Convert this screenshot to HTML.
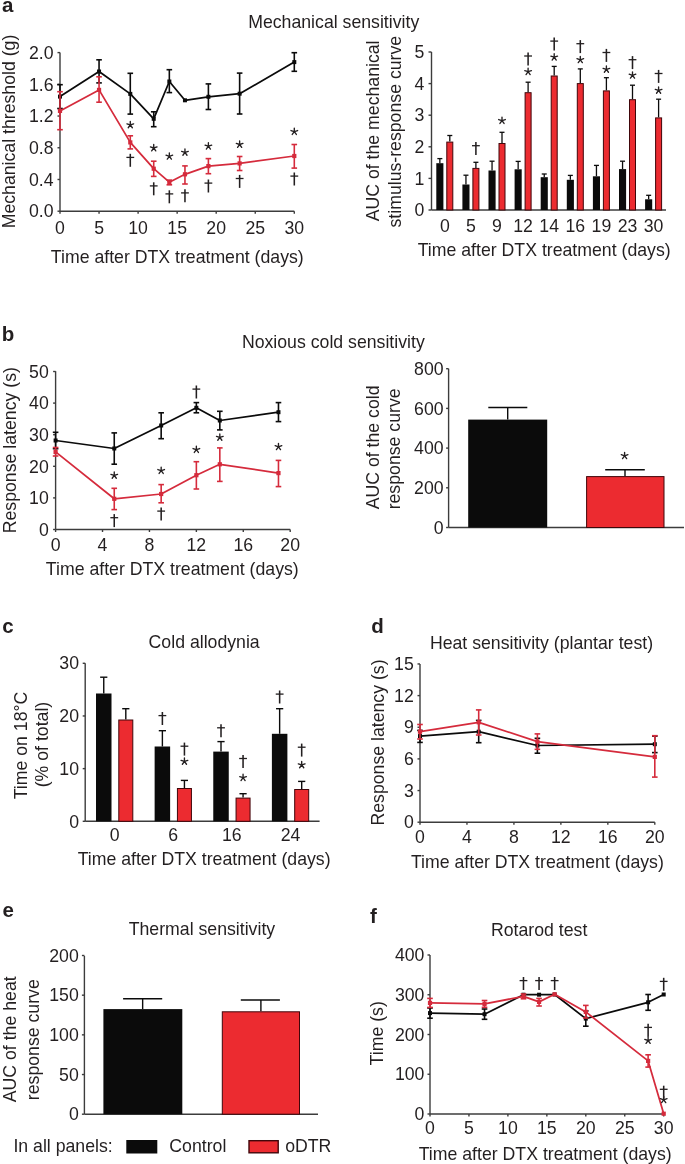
<!DOCTYPE html>
<html><head><meta charset="utf-8"><title>Figure</title>
<style>
html,body{margin:0;padding:0;background:#fff;}
body{width:685px;height:1164px;overflow:hidden;}
svg{display:block;font-family:"Liberation Sans",sans-serif;will-change:transform;}
</style></head><body>
<svg width="685" height="1164" viewBox="0 0 685 1164">
<rect x="0" y="0" width="685" height="1164" fill="#fff"/>
<line x1="60" y1="52.4" x2="60" y2="211.2" stroke="#3c3c3c" stroke-width="1.4"/>
<line x1="57.5" y1="211.2" x2="60" y2="211.2" stroke="#3c3c3c" stroke-width="1.4"/>
<text x="53.6" y="217.39" text-anchor="end" font-size="17.7" font-weight="normal" fill="#231f20">0.0</text>
<line x1="57.5" y1="179.48" x2="60" y2="179.48" stroke="#3c3c3c" stroke-width="1.4"/>
<text x="53.6" y="185.67" text-anchor="end" font-size="17.7" font-weight="normal" fill="#231f20">0.4</text>
<line x1="57.5" y1="147.76" x2="60" y2="147.76" stroke="#3c3c3c" stroke-width="1.4"/>
<text x="53.6" y="153.95" text-anchor="end" font-size="17.7" font-weight="normal" fill="#231f20">0.8</text>
<line x1="57.5" y1="116.04" x2="60" y2="116.04" stroke="#3c3c3c" stroke-width="1.4"/>
<text x="53.6" y="122.23" text-anchor="end" font-size="17.7" font-weight="normal" fill="#231f20">1.2</text>
<line x1="57.5" y1="84.32" x2="60" y2="84.32" stroke="#3c3c3c" stroke-width="1.4"/>
<text x="53.6" y="90.51" text-anchor="end" font-size="17.7" font-weight="normal" fill="#231f20">1.6</text>
<line x1="57.5" y1="52.6" x2="60" y2="52.6" stroke="#3c3c3c" stroke-width="1.4"/>
<text x="53.6" y="58.79" text-anchor="end" font-size="17.7" font-weight="normal" fill="#231f20">2.0</text>
<line x1="60" y1="211.2" x2="294.3" y2="211.2" stroke="#3c3c3c" stroke-width="1.4"/>
<line x1="60" y1="211.2" x2="60" y2="213.7" stroke="#3c3c3c" stroke-width="1.4"/>
<text x="60" y="234.3" text-anchor="middle" font-size="17.7" font-weight="normal" fill="#231f20">0</text>
<line x1="99.05" y1="211.2" x2="99.05" y2="213.7" stroke="#3c3c3c" stroke-width="1.4"/>
<text x="99.05" y="234.3" text-anchor="middle" font-size="17.7" font-weight="normal" fill="#231f20">5</text>
<line x1="138.1" y1="211.2" x2="138.1" y2="213.7" stroke="#3c3c3c" stroke-width="1.4"/>
<text x="138.1" y="234.3" text-anchor="middle" font-size="17.7" font-weight="normal" fill="#231f20">10</text>
<line x1="177.15" y1="211.2" x2="177.15" y2="213.7" stroke="#3c3c3c" stroke-width="1.4"/>
<text x="177.15" y="234.3" text-anchor="middle" font-size="17.7" font-weight="normal" fill="#231f20">15</text>
<line x1="216.2" y1="211.2" x2="216.2" y2="213.7" stroke="#3c3c3c" stroke-width="1.4"/>
<text x="216.2" y="234.3" text-anchor="middle" font-size="17.7" font-weight="normal" fill="#231f20">20</text>
<line x1="255.25" y1="211.2" x2="255.25" y2="213.7" stroke="#3c3c3c" stroke-width="1.4"/>
<text x="255.25" y="234.3" text-anchor="middle" font-size="17.7" font-weight="normal" fill="#231f20">25</text>
<line x1="294.3" y1="211.2" x2="294.3" y2="213.7" stroke="#3c3c3c" stroke-width="1.4"/>
<text x="294.3" y="234.3" text-anchor="middle" font-size="17.7" font-weight="normal" fill="#231f20">30</text>
<text x="177.3" y="263.2" text-anchor="middle" font-size="17.7" font-weight="normal" fill="#231f20">Time after DTX treatment (days)</text>
<text transform="translate(15.4 131.5) rotate(-90)" x="0" y="0" text-anchor="middle" font-size="17.7" fill="#231f20">Mechanical threshold (g)</text>
<polyline points="60,96.6 99.05,71.5 130.29,93.9 153.72,118.8 169.34,81.5 184.96,100.3 208.39,96.8 239.63,93.7 294.3,62.1" fill="none" stroke="#0b0b0b" stroke-width="1.75" stroke-linejoin="round"/>
<line x1="60" y1="84.7" x2="60" y2="108.5" stroke="#0b0b0b" stroke-width="1.6"/>
<line x1="57.2" y1="84.7" x2="62.8" y2="84.7" stroke="#0b0b0b" stroke-width="1.6"/>
<line x1="57.2" y1="108.5" x2="62.8" y2="108.5" stroke="#0b0b0b" stroke-width="1.6"/>
<rect x="58" y="94.6" width="4" height="4" fill="#0b0b0b"/>
<line x1="99.05" y1="59.8" x2="99.05" y2="82.9" stroke="#0b0b0b" stroke-width="1.6"/>
<line x1="96.25" y1="59.8" x2="101.85" y2="59.8" stroke="#0b0b0b" stroke-width="1.6"/>
<line x1="96.25" y1="82.9" x2="101.85" y2="82.9" stroke="#0b0b0b" stroke-width="1.6"/>
<rect x="97.05" y="69.5" width="4" height="4" fill="#0b0b0b"/>
<line x1="130.29" y1="73.3" x2="130.29" y2="114.1" stroke="#0b0b0b" stroke-width="1.6"/>
<line x1="127.49" y1="73.3" x2="133.09" y2="73.3" stroke="#0b0b0b" stroke-width="1.6"/>
<line x1="127.49" y1="114.1" x2="133.09" y2="114.1" stroke="#0b0b0b" stroke-width="1.6"/>
<rect x="128.29" y="91.9" width="4" height="4" fill="#0b0b0b"/>
<line x1="153.72" y1="111.8" x2="153.72" y2="126.7" stroke="#0b0b0b" stroke-width="1.6"/>
<line x1="150.92" y1="111.8" x2="156.52" y2="111.8" stroke="#0b0b0b" stroke-width="1.6"/>
<line x1="150.92" y1="126.7" x2="156.52" y2="126.7" stroke="#0b0b0b" stroke-width="1.6"/>
<rect x="151.72" y="116.8" width="4" height="4" fill="#0b0b0b"/>
<line x1="169.34" y1="69.7" x2="169.34" y2="92.6" stroke="#0b0b0b" stroke-width="1.6"/>
<line x1="166.54" y1="69.7" x2="172.14" y2="69.7" stroke="#0b0b0b" stroke-width="1.6"/>
<line x1="166.54" y1="92.6" x2="172.14" y2="92.6" stroke="#0b0b0b" stroke-width="1.6"/>
<rect x="167.34" y="79.5" width="4" height="4" fill="#0b0b0b"/>
<rect x="182.96" y="98.3" width="4" height="4" fill="#0b0b0b"/>
<line x1="208.39" y1="83.9" x2="208.39" y2="109.5" stroke="#0b0b0b" stroke-width="1.6"/>
<line x1="205.59" y1="83.9" x2="211.19" y2="83.9" stroke="#0b0b0b" stroke-width="1.6"/>
<line x1="205.59" y1="109.5" x2="211.19" y2="109.5" stroke="#0b0b0b" stroke-width="1.6"/>
<rect x="206.39" y="94.8" width="4" height="4" fill="#0b0b0b"/>
<line x1="239.63" y1="73.1" x2="239.63" y2="114" stroke="#0b0b0b" stroke-width="1.6"/>
<line x1="236.83" y1="73.1" x2="242.43" y2="73.1" stroke="#0b0b0b" stroke-width="1.6"/>
<line x1="236.83" y1="114" x2="242.43" y2="114" stroke="#0b0b0b" stroke-width="1.6"/>
<rect x="237.63" y="91.7" width="4" height="4" fill="#0b0b0b"/>
<line x1="294.3" y1="52.7" x2="294.3" y2="71.3" stroke="#0b0b0b" stroke-width="1.6"/>
<line x1="291.5" y1="52.7" x2="297.1" y2="52.7" stroke="#0b0b0b" stroke-width="1.6"/>
<line x1="291.5" y1="71.3" x2="297.1" y2="71.3" stroke="#0b0b0b" stroke-width="1.6"/>
<rect x="292.3" y="60.1" width="4" height="4" fill="#0b0b0b"/>
<polyline points="60,110.9 99.05,89.9 130.29,142.4 153.72,168.7 169.34,182.2 184.96,174.3 208.39,166.1 239.63,163.4 294.3,156" fill="none" stroke="#d52b3c" stroke-width="1.75" stroke-linejoin="round"/>
<line x1="60" y1="91.7" x2="60" y2="129.7" stroke="#d52b3c" stroke-width="1.6"/>
<line x1="57.2" y1="91.7" x2="62.8" y2="91.7" stroke="#d52b3c" stroke-width="1.6"/>
<line x1="57.2" y1="129.7" x2="62.8" y2="129.7" stroke="#d52b3c" stroke-width="1.6"/>
<rect x="57.9" y="108.8" width="4.2" height="4.2" fill="#d52b3c"/>
<line x1="99.05" y1="76.8" x2="99.05" y2="102.2" stroke="#d52b3c" stroke-width="1.6"/>
<line x1="96.25" y1="76.8" x2="101.85" y2="76.8" stroke="#d52b3c" stroke-width="1.6"/>
<line x1="96.25" y1="102.2" x2="101.85" y2="102.2" stroke="#d52b3c" stroke-width="1.6"/>
<rect x="96.95" y="87.8" width="4.2" height="4.2" fill="#d52b3c"/>
<line x1="130.29" y1="135.8" x2="130.29" y2="148.9" stroke="#d52b3c" stroke-width="1.6"/>
<line x1="127.49" y1="135.8" x2="133.09" y2="135.8" stroke="#d52b3c" stroke-width="1.6"/>
<line x1="127.49" y1="148.9" x2="133.09" y2="148.9" stroke="#d52b3c" stroke-width="1.6"/>
<rect x="128.19" y="140.3" width="4.2" height="4.2" fill="#d52b3c"/>
<line x1="153.72" y1="161.2" x2="153.72" y2="176.4" stroke="#d52b3c" stroke-width="1.6"/>
<line x1="150.92" y1="161.2" x2="156.52" y2="161.2" stroke="#d52b3c" stroke-width="1.6"/>
<line x1="150.92" y1="176.4" x2="156.52" y2="176.4" stroke="#d52b3c" stroke-width="1.6"/>
<rect x="151.62" y="166.6" width="4.2" height="4.2" fill="#d52b3c"/>
<line x1="169.34" y1="180.1" x2="169.34" y2="184.8" stroke="#d52b3c" stroke-width="1.6"/>
<line x1="166.54" y1="180.1" x2="172.14" y2="180.1" stroke="#d52b3c" stroke-width="1.6"/>
<line x1="166.54" y1="184.8" x2="172.14" y2="184.8" stroke="#d52b3c" stroke-width="1.6"/>
<rect x="167.24" y="180.1" width="4.2" height="4.2" fill="#d52b3c"/>
<line x1="184.96" y1="165.9" x2="184.96" y2="184" stroke="#d52b3c" stroke-width="1.6"/>
<line x1="182.16" y1="165.9" x2="187.76" y2="165.9" stroke="#d52b3c" stroke-width="1.6"/>
<line x1="182.16" y1="184" x2="187.76" y2="184" stroke="#d52b3c" stroke-width="1.6"/>
<rect x="182.86" y="172.2" width="4.2" height="4.2" fill="#d52b3c"/>
<line x1="208.39" y1="158.6" x2="208.39" y2="173.7" stroke="#d52b3c" stroke-width="1.6"/>
<line x1="205.59" y1="158.6" x2="211.19" y2="158.6" stroke="#d52b3c" stroke-width="1.6"/>
<line x1="205.59" y1="173.7" x2="211.19" y2="173.7" stroke="#d52b3c" stroke-width="1.6"/>
<rect x="206.29" y="164" width="4.2" height="4.2" fill="#d52b3c"/>
<line x1="239.63" y1="156.5" x2="239.63" y2="170.5" stroke="#d52b3c" stroke-width="1.6"/>
<line x1="236.83" y1="156.5" x2="242.43" y2="156.5" stroke="#d52b3c" stroke-width="1.6"/>
<line x1="236.83" y1="170.5" x2="242.43" y2="170.5" stroke="#d52b3c" stroke-width="1.6"/>
<rect x="237.53" y="161.3" width="4.2" height="4.2" fill="#d52b3c"/>
<line x1="294.3" y1="144.5" x2="294.3" y2="168.1" stroke="#d52b3c" stroke-width="1.6"/>
<line x1="291.5" y1="144.5" x2="297.1" y2="144.5" stroke="#d52b3c" stroke-width="1.6"/>
<line x1="291.5" y1="168.1" x2="297.1" y2="168.1" stroke="#d52b3c" stroke-width="1.6"/>
<rect x="292.2" y="153.9" width="4.2" height="4.2" fill="#d52b3c"/>
<path d="M130.29 124.9L130.29 121.4M130.29 124.9L133.62 123.82M130.29 124.9L132.35 127.73M130.29 124.9L128.23 127.73M130.29 124.9L126.96 123.82" stroke="#231f20" stroke-width="1.35" stroke-linecap="round" fill="none"/>
<path d="M153.72 148L153.72 144.5M153.72 148L157.05 146.92M153.72 148L155.78 150.83M153.72 148L151.66 150.83M153.72 148L150.39 146.92" stroke="#231f20" stroke-width="1.35" stroke-linecap="round" fill="none"/>
<path d="M169.34 156.3L169.34 152.8M169.34 156.3L172.67 155.22M169.34 156.3L171.4 159.13M169.34 156.3L167.28 159.13M169.34 156.3L166.01 155.22" stroke="#231f20" stroke-width="1.35" stroke-linecap="round" fill="none"/>
<path d="M184.96 152.4L184.96 148.9M184.96 152.4L188.29 151.32M184.96 152.4L187.02 155.23M184.96 152.4L182.9 155.23M184.96 152.4L181.63 151.32" stroke="#231f20" stroke-width="1.35" stroke-linecap="round" fill="none"/>
<path d="M208.39 146.2L208.39 142.7M208.39 146.2L211.72 145.12M208.39 146.2L210.45 149.03M208.39 146.2L206.33 149.03M208.39 146.2L205.06 145.12" stroke="#231f20" stroke-width="1.35" stroke-linecap="round" fill="none"/>
<path d="M239.63 144.5L239.63 141M239.63 144.5L242.96 143.42M239.63 144.5L241.69 147.33M239.63 144.5L237.57 147.33M239.63 144.5L236.3 143.42" stroke="#231f20" stroke-width="1.35" stroke-linecap="round" fill="none"/>
<path d="M294.3 131.6L294.3 128.1M294.3 131.6L297.63 130.52M294.3 131.6L296.36 134.43M294.3 131.6L292.24 134.43M294.3 131.6L290.97 130.52" stroke="#231f20" stroke-width="1.35" stroke-linecap="round" fill="none"/>
<path d="M130.29 153.8L130.29 166.8" stroke="#231f20" stroke-width="1.55" fill="none"/>
<path d="M126.39 157.4L134.19 157.4" stroke="#231f20" stroke-width="1.3" fill="none"/>
<path d="M153.72 182.3L153.72 195.3" stroke="#231f20" stroke-width="1.55" fill="none"/>
<path d="M149.82 185.9L157.62 185.9" stroke="#231f20" stroke-width="1.3" fill="none"/>
<path d="M169.34 190.3L169.34 203.3" stroke="#231f20" stroke-width="1.55" fill="none"/>
<path d="M165.44 193.9L173.24 193.9" stroke="#231f20" stroke-width="1.3" fill="none"/>
<path d="M184.96 189.3L184.96 202.3" stroke="#231f20" stroke-width="1.55" fill="none"/>
<path d="M181.06 192.9L188.86 192.9" stroke="#231f20" stroke-width="1.3" fill="none"/>
<path d="M208.39 179.5L208.39 192.5" stroke="#231f20" stroke-width="1.55" fill="none"/>
<path d="M204.49 183.1L212.29 183.1" stroke="#231f20" stroke-width="1.3" fill="none"/>
<path d="M239.63 174.9L239.63 187.9" stroke="#231f20" stroke-width="1.55" fill="none"/>
<path d="M235.73 178.5L243.53 178.5" stroke="#231f20" stroke-width="1.3" fill="none"/>
<path d="M294.3 172.5L294.3 185.5" stroke="#231f20" stroke-width="1.55" fill="none"/>
<path d="M290.4 176.1L298.2 176.1" stroke="#231f20" stroke-width="1.3" fill="none"/>
<line x1="431.5" y1="52" x2="431.5" y2="210" stroke="#3c3c3c" stroke-width="1.4"/>
<line x1="428.5" y1="210" x2="431.5" y2="210" stroke="#3c3c3c" stroke-width="1.4"/>
<text x="424.3" y="216.19" text-anchor="end" font-size="17.7" font-weight="normal" fill="#231f20">0</text>
<line x1="428.5" y1="178.4" x2="431.5" y2="178.4" stroke="#3c3c3c" stroke-width="1.4"/>
<text x="424.3" y="184.59" text-anchor="end" font-size="17.7" font-weight="normal" fill="#231f20">1</text>
<line x1="428.5" y1="146.8" x2="431.5" y2="146.8" stroke="#3c3c3c" stroke-width="1.4"/>
<text x="424.3" y="153" text-anchor="end" font-size="17.7" font-weight="normal" fill="#231f20">2</text>
<line x1="428.5" y1="115.2" x2="431.5" y2="115.2" stroke="#3c3c3c" stroke-width="1.4"/>
<text x="424.3" y="121.39" text-anchor="end" font-size="17.7" font-weight="normal" fill="#231f20">3</text>
<line x1="428.5" y1="83.6" x2="431.5" y2="83.6" stroke="#3c3c3c" stroke-width="1.4"/>
<text x="424.3" y="89.79" text-anchor="end" font-size="17.7" font-weight="normal" fill="#231f20">4</text>
<line x1="428.5" y1="52" x2="431.5" y2="52" stroke="#3c3c3c" stroke-width="1.4"/>
<text x="424.3" y="58.2" text-anchor="end" font-size="17.7" font-weight="normal" fill="#231f20">5</text>
<line x1="431.5" y1="210" x2="666" y2="210" stroke="#3c3c3c" stroke-width="1.4"/>
<line x1="439.85" y1="158.6" x2="439.85" y2="163.2" stroke="#0b0b0b" stroke-width="1.3"/>
<line x1="437.35" y1="158.6" x2="442.35" y2="158.6" stroke="#0b0b0b" stroke-width="1.3"/>
<rect x="436.3" y="163.2" width="7.1" height="46.8" fill="#0b0b0b"/>
<line x1="449.8" y1="135.5" x2="449.8" y2="141.6" stroke="#0b0b0b" stroke-width="1.3"/>
<line x1="447.3" y1="135.5" x2="452.3" y2="135.5" stroke="#0b0b0b" stroke-width="1.3"/>
<rect x="446.8" y="142.1" width="6" height="67.9" fill="#ec2b30" stroke="#40060a" stroke-width="1"/>
<text x="444.8" y="231.8" text-anchor="middle" font-size="17.7" font-weight="normal" fill="#231f20">0</text>
<line x1="465.95" y1="175.2" x2="465.95" y2="184.5" stroke="#0b0b0b" stroke-width="1.3"/>
<line x1="463.45" y1="175.2" x2="468.45" y2="175.2" stroke="#0b0b0b" stroke-width="1.3"/>
<rect x="462.4" y="184.5" width="7.1" height="25.5" fill="#0b0b0b"/>
<line x1="475.9" y1="162.3" x2="475.9" y2="167.9" stroke="#0b0b0b" stroke-width="1.3"/>
<line x1="473.4" y1="162.3" x2="478.4" y2="162.3" stroke="#0b0b0b" stroke-width="1.3"/>
<rect x="472.9" y="168.4" width="6" height="41.6" fill="#ec2b30" stroke="#40060a" stroke-width="1"/>
<text x="470.9" y="231.8" text-anchor="middle" font-size="17.7" font-weight="normal" fill="#231f20">5</text>
<path d="M475.9 142.1L475.9 155.1" stroke="#231f20" stroke-width="1.55" fill="none"/>
<path d="M472 145.7L479.8 145.7" stroke="#231f20" stroke-width="1.3" fill="none"/>
<line x1="492.05" y1="161.2" x2="492.05" y2="170.5" stroke="#0b0b0b" stroke-width="1.3"/>
<line x1="489.55" y1="161.2" x2="494.55" y2="161.2" stroke="#0b0b0b" stroke-width="1.3"/>
<rect x="488.5" y="170.5" width="7.1" height="39.5" fill="#0b0b0b"/>
<line x1="502" y1="132.3" x2="502" y2="143" stroke="#0b0b0b" stroke-width="1.3"/>
<line x1="499.5" y1="132.3" x2="504.5" y2="132.3" stroke="#0b0b0b" stroke-width="1.3"/>
<rect x="499" y="143.5" width="6" height="66.5" fill="#ec2b30" stroke="#40060a" stroke-width="1"/>
<text x="497" y="231.8" text-anchor="middle" font-size="17.7" font-weight="normal" fill="#231f20">9</text>
<path d="M502 120.6L502 117.1M502 120.6L505.33 119.52M502 120.6L504.06 123.43M502 120.6L499.94 123.43M502 120.6L498.67 119.52" stroke="#231f20" stroke-width="1.35" stroke-linecap="round" fill="none"/>
<line x1="518.15" y1="161.4" x2="518.15" y2="169.3" stroke="#0b0b0b" stroke-width="1.3"/>
<line x1="515.65" y1="161.4" x2="520.65" y2="161.4" stroke="#0b0b0b" stroke-width="1.3"/>
<rect x="514.6" y="169.3" width="7.1" height="40.7" fill="#0b0b0b"/>
<line x1="528.1" y1="82.2" x2="528.1" y2="92.2" stroke="#0b0b0b" stroke-width="1.3"/>
<line x1="525.6" y1="82.2" x2="530.6" y2="82.2" stroke="#0b0b0b" stroke-width="1.3"/>
<rect x="525.1" y="92.7" width="6" height="117.3" fill="#ec2b30" stroke="#40060a" stroke-width="1"/>
<text x="523.1" y="231.8" text-anchor="middle" font-size="17.7" font-weight="normal" fill="#231f20">12</text>
<path d="M528.1 71.7L528.1 68.2M528.1 71.7L531.43 70.62M528.1 71.7L530.16 74.53M528.1 71.7L526.04 74.53M528.1 71.7L524.77 70.62" stroke="#231f20" stroke-width="1.35" stroke-linecap="round" fill="none"/>
<path d="M528.1 52.4L528.1 65.4" stroke="#231f20" stroke-width="1.55" fill="none"/>
<path d="M524.2 56L532 56" stroke="#231f20" stroke-width="1.3" fill="none"/>
<line x1="544.25" y1="174" x2="544.25" y2="177.2" stroke="#0b0b0b" stroke-width="1.3"/>
<line x1="541.75" y1="174" x2="546.75" y2="174" stroke="#0b0b0b" stroke-width="1.3"/>
<rect x="540.7" y="177.2" width="7.1" height="32.8" fill="#0b0b0b"/>
<line x1="554.2" y1="66.4" x2="554.2" y2="75.5" stroke="#0b0b0b" stroke-width="1.3"/>
<line x1="551.7" y1="66.4" x2="556.7" y2="66.4" stroke="#0b0b0b" stroke-width="1.3"/>
<rect x="551.2" y="76" width="6" height="134" fill="#ec2b30" stroke="#40060a" stroke-width="1"/>
<text x="549.2" y="231.8" text-anchor="middle" font-size="17.7" font-weight="normal" fill="#231f20">14</text>
<path d="M554.2 57.2L554.2 53.7M554.2 57.2L557.53 56.12M554.2 57.2L556.26 60.03M554.2 57.2L552.14 60.03M554.2 57.2L550.87 56.12" stroke="#231f20" stroke-width="1.35" stroke-linecap="round" fill="none"/>
<path d="M554.2 37.5L554.2 50.5" stroke="#231f20" stroke-width="1.55" fill="none"/>
<path d="M550.3 41.1L558.1 41.1" stroke="#231f20" stroke-width="1.3" fill="none"/>
<line x1="570.35" y1="175.4" x2="570.35" y2="179.8" stroke="#0b0b0b" stroke-width="1.3"/>
<line x1="567.85" y1="175.4" x2="572.85" y2="175.4" stroke="#0b0b0b" stroke-width="1.3"/>
<rect x="566.8" y="179.8" width="7.1" height="30.2" fill="#0b0b0b"/>
<line x1="580.3" y1="68.9" x2="580.3" y2="83.1" stroke="#0b0b0b" stroke-width="1.3"/>
<line x1="577.8" y1="68.9" x2="582.8" y2="68.9" stroke="#0b0b0b" stroke-width="1.3"/>
<rect x="577.3" y="83.6" width="6" height="126.4" fill="#ec2b30" stroke="#40060a" stroke-width="1"/>
<text x="575.3" y="231.8" text-anchor="middle" font-size="17.7" font-weight="normal" fill="#231f20">16</text>
<path d="M580.3 59.8L580.3 56.3M580.3 59.8L583.63 58.72M580.3 59.8L582.36 62.63M580.3 59.8L578.24 62.63M580.3 59.8L576.97 58.72" stroke="#231f20" stroke-width="1.35" stroke-linecap="round" fill="none"/>
<path d="M580.3 40.1L580.3 53.1" stroke="#231f20" stroke-width="1.55" fill="none"/>
<path d="M576.4 43.7L584.2 43.7" stroke="#231f20" stroke-width="1.3" fill="none"/>
<line x1="596.45" y1="165.4" x2="596.45" y2="176.3" stroke="#0b0b0b" stroke-width="1.3"/>
<line x1="593.95" y1="165.4" x2="598.95" y2="165.4" stroke="#0b0b0b" stroke-width="1.3"/>
<rect x="592.9" y="176.3" width="7.1" height="33.7" fill="#0b0b0b"/>
<line x1="606.4" y1="77.7" x2="606.4" y2="90.4" stroke="#0b0b0b" stroke-width="1.3"/>
<line x1="603.9" y1="77.7" x2="608.9" y2="77.7" stroke="#0b0b0b" stroke-width="1.3"/>
<rect x="603.4" y="90.9" width="6" height="119.1" fill="#ec2b30" stroke="#40060a" stroke-width="1"/>
<text x="601.4" y="231.8" text-anchor="middle" font-size="17.7" font-weight="normal" fill="#231f20">19</text>
<path d="M606.4 69.4L606.4 65.9M606.4 69.4L609.73 68.32M606.4 69.4L608.46 72.23M606.4 69.4L604.34 72.23M606.4 69.4L603.07 68.32" stroke="#231f20" stroke-width="1.35" stroke-linecap="round" fill="none"/>
<path d="M606.4 48.9L606.4 61.9" stroke="#231f20" stroke-width="1.55" fill="none"/>
<path d="M602.5 52.5L610.3 52.5" stroke="#231f20" stroke-width="1.3" fill="none"/>
<line x1="622.55" y1="161.2" x2="622.55" y2="169.1" stroke="#0b0b0b" stroke-width="1.3"/>
<line x1="620.05" y1="161.2" x2="625.05" y2="161.2" stroke="#0b0b0b" stroke-width="1.3"/>
<rect x="619" y="169.1" width="7.1" height="40.9" fill="#0b0b0b"/>
<line x1="632.5" y1="85.2" x2="632.5" y2="99.2" stroke="#0b0b0b" stroke-width="1.3"/>
<line x1="630" y1="85.2" x2="635" y2="85.2" stroke="#0b0b0b" stroke-width="1.3"/>
<rect x="629.5" y="99.7" width="6" height="110.3" fill="#ec2b30" stroke="#40060a" stroke-width="1"/>
<text x="627.5" y="231.8" text-anchor="middle" font-size="17.7" font-weight="normal" fill="#231f20">23</text>
<path d="M632.5 75.3L632.5 71.8M632.5 75.3L635.83 74.22M632.5 75.3L634.56 78.13M632.5 75.3L630.44 78.13M632.5 75.3L629.17 74.22" stroke="#231f20" stroke-width="1.35" stroke-linecap="round" fill="none"/>
<path d="M632.5 56.1L632.5 69.1" stroke="#231f20" stroke-width="1.55" fill="none"/>
<path d="M628.6 59.7L636.4 59.7" stroke="#231f20" stroke-width="1.3" fill="none"/>
<line x1="648.65" y1="195.3" x2="648.65" y2="199.3" stroke="#0b0b0b" stroke-width="1.3"/>
<line x1="646.15" y1="195.3" x2="651.15" y2="195.3" stroke="#0b0b0b" stroke-width="1.3"/>
<rect x="645.1" y="199.3" width="7.1" height="10.7" fill="#0b0b0b"/>
<line x1="658.6" y1="99.2" x2="658.6" y2="117.4" stroke="#0b0b0b" stroke-width="1.3"/>
<line x1="656.1" y1="99.2" x2="661.1" y2="99.2" stroke="#0b0b0b" stroke-width="1.3"/>
<rect x="655.6" y="117.9" width="6" height="92.1" fill="#ec2b30" stroke="#40060a" stroke-width="1"/>
<text x="653.6" y="231.8" text-anchor="middle" font-size="17.7" font-weight="normal" fill="#231f20">30</text>
<path d="M658.6 90.4L658.6 86.9M658.6 90.4L661.93 89.32M658.6 90.4L660.66 93.23M658.6 90.4L656.54 93.23M658.6 90.4L655.27 89.32" stroke="#231f20" stroke-width="1.35" stroke-linecap="round" fill="none"/>
<path d="M658.6 69.9L658.6 82.9" stroke="#231f20" stroke-width="1.55" fill="none"/>
<path d="M654.7 73.5L662.5 73.5" stroke="#231f20" stroke-width="1.3" fill="none"/>
<text x="544.2" y="256.3" text-anchor="middle" font-size="17.7" font-weight="normal" fill="#231f20">Time after DTX treatment (days)</text>
<text transform="translate(379.2 130.9) rotate(-90)" x="0" y="0" text-anchor="middle" font-size="17.7" fill="#231f20">AUC of the mechanical</text>
<text transform="translate(400.6 131.7) rotate(-90)" x="0" y="0" text-anchor="middle" font-size="17.7" fill="#231f20">stimulus-response curve</text>
<line x1="55.6" y1="371.2" x2="55.6" y2="529.5" stroke="#3c3c3c" stroke-width="1.4"/>
<line x1="53.1" y1="529.5" x2="55.6" y2="529.5" stroke="#3c3c3c" stroke-width="1.4"/>
<text x="48.8" y="535.7" text-anchor="end" font-size="17.7" font-weight="normal" fill="#231f20">0</text>
<line x1="53.1" y1="497.9" x2="55.6" y2="497.9" stroke="#3c3c3c" stroke-width="1.4"/>
<text x="48.8" y="504.09" text-anchor="end" font-size="17.7" font-weight="normal" fill="#231f20">10</text>
<line x1="53.1" y1="466.3" x2="55.6" y2="466.3" stroke="#3c3c3c" stroke-width="1.4"/>
<text x="48.8" y="472.5" text-anchor="end" font-size="17.7" font-weight="normal" fill="#231f20">20</text>
<line x1="53.1" y1="434.7" x2="55.6" y2="434.7" stroke="#3c3c3c" stroke-width="1.4"/>
<text x="48.8" y="440.89" text-anchor="end" font-size="17.7" font-weight="normal" fill="#231f20">30</text>
<line x1="53.1" y1="403.1" x2="55.6" y2="403.1" stroke="#3c3c3c" stroke-width="1.4"/>
<text x="48.8" y="409.3" text-anchor="end" font-size="17.7" font-weight="normal" fill="#231f20">40</text>
<line x1="53.1" y1="371.5" x2="55.6" y2="371.5" stroke="#3c3c3c" stroke-width="1.4"/>
<text x="48.8" y="377.69" text-anchor="end" font-size="17.7" font-weight="normal" fill="#231f20">50</text>
<line x1="55.6" y1="529.5" x2="290.2" y2="529.5" stroke="#3c3c3c" stroke-width="1.4"/>
<line x1="55.6" y1="529.5" x2="55.6" y2="532" stroke="#3c3c3c" stroke-width="1.4"/>
<text x="55.6" y="551.2" text-anchor="middle" font-size="17.7" font-weight="normal" fill="#231f20">0</text>
<line x1="102.52" y1="529.5" x2="102.52" y2="532" stroke="#3c3c3c" stroke-width="1.4"/>
<text x="102.52" y="551.2" text-anchor="middle" font-size="17.7" font-weight="normal" fill="#231f20">4</text>
<line x1="149.44" y1="529.5" x2="149.44" y2="532" stroke="#3c3c3c" stroke-width="1.4"/>
<text x="149.44" y="551.2" text-anchor="middle" font-size="17.7" font-weight="normal" fill="#231f20">8</text>
<line x1="196.36" y1="529.5" x2="196.36" y2="532" stroke="#3c3c3c" stroke-width="1.4"/>
<text x="196.36" y="551.2" text-anchor="middle" font-size="17.7" font-weight="normal" fill="#231f20">12</text>
<line x1="243.28" y1="529.5" x2="243.28" y2="532" stroke="#3c3c3c" stroke-width="1.4"/>
<text x="243.28" y="551.2" text-anchor="middle" font-size="17.7" font-weight="normal" fill="#231f20">16</text>
<line x1="290.2" y1="529.5" x2="290.2" y2="532" stroke="#3c3c3c" stroke-width="1.4"/>
<text x="290.2" y="551.2" text-anchor="middle" font-size="17.7" font-weight="normal" fill="#231f20">20</text>
<text x="172.3" y="574.8" text-anchor="middle" font-size="17.7" font-weight="normal" fill="#231f20">Time after DTX treatment (days)</text>
<text transform="translate(15.6 450.2) rotate(-90)" x="0" y="0" text-anchor="middle" font-size="17.7" fill="#231f20">Response latency (s)</text>
<polyline points="55.6,440.5 114.25,448.5 161.17,425.5 196.36,407.8 219.82,420.5 278.47,412.2" fill="none" stroke="#0b0b0b" stroke-width="1.75" stroke-linejoin="round"/>
<line x1="55.6" y1="432.3" x2="55.6" y2="448.7" stroke="#0b0b0b" stroke-width="1.6"/>
<line x1="52.8" y1="432.3" x2="58.4" y2="432.3" stroke="#0b0b0b" stroke-width="1.6"/>
<line x1="52.8" y1="448.7" x2="58.4" y2="448.7" stroke="#0b0b0b" stroke-width="1.6"/>
<rect x="53.6" y="438.5" width="4" height="4" fill="#0b0b0b"/>
<line x1="114.25" y1="432.9" x2="114.25" y2="464.2" stroke="#0b0b0b" stroke-width="1.6"/>
<line x1="111.45" y1="432.9" x2="117.05" y2="432.9" stroke="#0b0b0b" stroke-width="1.6"/>
<line x1="111.45" y1="464.2" x2="117.05" y2="464.2" stroke="#0b0b0b" stroke-width="1.6"/>
<rect x="112.25" y="446.5" width="4" height="4" fill="#0b0b0b"/>
<line x1="161.17" y1="412.8" x2="161.17" y2="438.7" stroke="#0b0b0b" stroke-width="1.6"/>
<line x1="158.37" y1="412.8" x2="163.97" y2="412.8" stroke="#0b0b0b" stroke-width="1.6"/>
<line x1="158.37" y1="438.7" x2="163.97" y2="438.7" stroke="#0b0b0b" stroke-width="1.6"/>
<rect x="159.17" y="423.5" width="4" height="4" fill="#0b0b0b"/>
<line x1="196.36" y1="402.6" x2="196.36" y2="412.8" stroke="#0b0b0b" stroke-width="1.6"/>
<line x1="193.56" y1="402.6" x2="199.16" y2="402.6" stroke="#0b0b0b" stroke-width="1.6"/>
<line x1="193.56" y1="412.8" x2="199.16" y2="412.8" stroke="#0b0b0b" stroke-width="1.6"/>
<rect x="194.36" y="405.8" width="4" height="4" fill="#0b0b0b"/>
<line x1="219.82" y1="411.3" x2="219.82" y2="429.9" stroke="#0b0b0b" stroke-width="1.6"/>
<line x1="217.02" y1="411.3" x2="222.62" y2="411.3" stroke="#0b0b0b" stroke-width="1.6"/>
<line x1="217.02" y1="429.9" x2="222.62" y2="429.9" stroke="#0b0b0b" stroke-width="1.6"/>
<rect x="217.82" y="418.5" width="4" height="4" fill="#0b0b0b"/>
<line x1="278.47" y1="402.6" x2="278.47" y2="421.6" stroke="#0b0b0b" stroke-width="1.6"/>
<line x1="275.67" y1="402.6" x2="281.27" y2="402.6" stroke="#0b0b0b" stroke-width="1.6"/>
<line x1="275.67" y1="421.6" x2="281.27" y2="421.6" stroke="#0b0b0b" stroke-width="1.6"/>
<rect x="276.47" y="410.2" width="4" height="4" fill="#0b0b0b"/>
<polyline points="55.6,451.9 114.25,498.8 161.17,494 196.36,475.2 219.82,464.3 278.47,473.1" fill="none" stroke="#d52b3c" stroke-width="1.75" stroke-linejoin="round"/>
<line x1="55.6" y1="447.5" x2="55.6" y2="456" stroke="#d52b3c" stroke-width="1.6"/>
<line x1="52.8" y1="447.5" x2="58.4" y2="447.5" stroke="#d52b3c" stroke-width="1.6"/>
<line x1="52.8" y1="456" x2="58.4" y2="456" stroke="#d52b3c" stroke-width="1.6"/>
<rect x="53.5" y="449.8" width="4.2" height="4.2" fill="#d52b3c"/>
<line x1="114.25" y1="488.3" x2="114.25" y2="509.6" stroke="#d52b3c" stroke-width="1.6"/>
<line x1="111.45" y1="488.3" x2="117.05" y2="488.3" stroke="#d52b3c" stroke-width="1.6"/>
<line x1="111.45" y1="509.6" x2="117.05" y2="509.6" stroke="#d52b3c" stroke-width="1.6"/>
<rect x="112.15" y="496.7" width="4.2" height="4.2" fill="#d52b3c"/>
<line x1="161.17" y1="484.6" x2="161.17" y2="502.8" stroke="#d52b3c" stroke-width="1.6"/>
<line x1="158.37" y1="484.6" x2="163.97" y2="484.6" stroke="#d52b3c" stroke-width="1.6"/>
<line x1="158.37" y1="502.8" x2="163.97" y2="502.8" stroke="#d52b3c" stroke-width="1.6"/>
<rect x="159.07" y="491.9" width="4.2" height="4.2" fill="#d52b3c"/>
<line x1="196.36" y1="461.7" x2="196.36" y2="489" stroke="#d52b3c" stroke-width="1.6"/>
<line x1="193.56" y1="461.7" x2="199.16" y2="461.7" stroke="#d52b3c" stroke-width="1.6"/>
<line x1="193.56" y1="489" x2="199.16" y2="489" stroke="#d52b3c" stroke-width="1.6"/>
<rect x="194.26" y="473.1" width="4.2" height="4.2" fill="#d52b3c"/>
<line x1="219.82" y1="447.9" x2="219.82" y2="481.4" stroke="#d52b3c" stroke-width="1.6"/>
<line x1="217.02" y1="447.9" x2="222.62" y2="447.9" stroke="#d52b3c" stroke-width="1.6"/>
<line x1="217.02" y1="481.4" x2="222.62" y2="481.4" stroke="#d52b3c" stroke-width="1.6"/>
<rect x="217.72" y="462.2" width="4.2" height="4.2" fill="#d52b3c"/>
<line x1="278.47" y1="460.4" x2="278.47" y2="486.6" stroke="#d52b3c" stroke-width="1.6"/>
<line x1="275.67" y1="460.4" x2="281.27" y2="460.4" stroke="#d52b3c" stroke-width="1.6"/>
<line x1="275.67" y1="486.6" x2="281.27" y2="486.6" stroke="#d52b3c" stroke-width="1.6"/>
<rect x="276.37" y="471" width="4.2" height="4.2" fill="#d52b3c"/>
<path d="M114.25 475.4L114.25 471.9M114.25 475.4L117.58 474.32M114.25 475.4L116.31 478.23M114.25 475.4L112.19 478.23M114.25 475.4L110.92 474.32" stroke="#231f20" stroke-width="1.35" stroke-linecap="round" fill="none"/>
<path d="M161.17 470.6L161.17 467.1M161.17 470.6L164.5 469.52M161.17 470.6L163.23 473.43M161.17 470.6L159.11 473.43M161.17 470.6L157.84 469.52" stroke="#231f20" stroke-width="1.35" stroke-linecap="round" fill="none"/>
<path d="M196.36 449.6L196.36 446.1M196.36 449.6L199.69 448.52M196.36 449.6L198.42 452.43M196.36 449.6L194.3 452.43M196.36 449.6L193.03 448.52" stroke="#231f20" stroke-width="1.35" stroke-linecap="round" fill="none"/>
<path d="M219.82 437.4L219.82 433.9M219.82 437.4L223.15 436.32M219.82 437.4L221.88 440.23M219.82 437.4L217.76 440.23M219.82 437.4L216.49 436.32" stroke="#231f20" stroke-width="1.35" stroke-linecap="round" fill="none"/>
<path d="M278.47 446.8L278.47 443.3M278.47 446.8L281.8 445.72M278.47 446.8L280.53 449.63M278.47 446.8L276.41 449.63M278.47 446.8L275.14 445.72" stroke="#231f20" stroke-width="1.35" stroke-linecap="round" fill="none"/>
<path d="M114.25 514.1L114.25 527.1" stroke="#231f20" stroke-width="1.55" fill="none"/>
<path d="M110.35 517.7L118.15 517.7" stroke="#231f20" stroke-width="1.3" fill="none"/>
<path d="M161.17 507.5L161.17 520.5" stroke="#231f20" stroke-width="1.55" fill="none"/>
<path d="M157.27 511.1L165.07 511.1" stroke="#231f20" stroke-width="1.3" fill="none"/>
<path d="M196.36 385.5L196.36 398.5" stroke="#231f20" stroke-width="1.55" fill="none"/>
<path d="M192.46 389.1L200.26 389.1" stroke="#231f20" stroke-width="1.3" fill="none"/>
<line x1="448.6" y1="368.7" x2="448.6" y2="527.5" stroke="#3c3c3c" stroke-width="1.4"/>
<line x1="446.1" y1="527.5" x2="448.6" y2="527.5" stroke="#3c3c3c" stroke-width="1.4"/>
<text x="443.6" y="533.7" text-anchor="end" font-size="17.7" font-weight="normal" fill="#231f20">0</text>
<line x1="446.1" y1="487.8" x2="448.6" y2="487.8" stroke="#3c3c3c" stroke-width="1.4"/>
<text x="443.6" y="494" text-anchor="end" font-size="17.7" font-weight="normal" fill="#231f20">200</text>
<line x1="446.1" y1="448.1" x2="448.6" y2="448.1" stroke="#3c3c3c" stroke-width="1.4"/>
<text x="443.6" y="454.3" text-anchor="end" font-size="17.7" font-weight="normal" fill="#231f20">400</text>
<line x1="446.1" y1="408.4" x2="448.6" y2="408.4" stroke="#3c3c3c" stroke-width="1.4"/>
<text x="443.6" y="414.59" text-anchor="end" font-size="17.7" font-weight="normal" fill="#231f20">600</text>
<line x1="446.1" y1="368.7" x2="448.6" y2="368.7" stroke="#3c3c3c" stroke-width="1.4"/>
<text x="443.6" y="374.89" text-anchor="end" font-size="17.7" font-weight="normal" fill="#231f20">800</text>
<line x1="448.6" y1="527.5" x2="684" y2="527.5" stroke="#3c3c3c" stroke-width="1.4"/>
<line x1="507.7" y1="407.5" x2="507.7" y2="419.6" stroke="#0b0b0b" stroke-width="1.4"/>
<line x1="488.3" y1="407.5" x2="527.3" y2="407.5" stroke="#0b0b0b" stroke-width="1.4"/>
<rect x="468.2" y="419.6" width="79" height="107.9" fill="#0b0b0b"/>
<line x1="625" y1="469.8" x2="625" y2="476.1" stroke="#0b0b0b" stroke-width="1.4"/>
<line x1="605.2" y1="469.8" x2="644.8" y2="469.8" stroke="#0b0b0b" stroke-width="1.4"/>
<rect x="586.6" y="476.6" width="77.4" height="50.9" fill="#ec2b30" stroke="#40060a" stroke-width="1"/>
<path d="M624.6 455.8L624.6 452.3M624.6 455.8L627.93 454.72M624.6 455.8L626.66 458.63M624.6 455.8L622.54 458.63M624.6 455.8L621.27 454.72" stroke="#231f20" stroke-width="1.35" stroke-linecap="round" fill="none"/>
<text transform="translate(379.3 447.4) rotate(-90)" x="0" y="0" text-anchor="middle" font-size="17.7" fill="#231f20">AUC of the cold</text>
<text transform="translate(399.9 448.9) rotate(-90)" x="0" y="0" text-anchor="middle" font-size="17.7" fill="#231f20">response curve</text>
<line x1="85.2" y1="663.3" x2="85.2" y2="821.3" stroke="#3c3c3c" stroke-width="1.4"/>
<line x1="82.7" y1="821.3" x2="85.2" y2="821.3" stroke="#3c3c3c" stroke-width="1.4"/>
<text x="79" y="827.5" text-anchor="end" font-size="17.7" font-weight="normal" fill="#231f20">0</text>
<line x1="82.7" y1="768.63" x2="85.2" y2="768.63" stroke="#3c3c3c" stroke-width="1.4"/>
<text x="79" y="774.83" text-anchor="end" font-size="17.7" font-weight="normal" fill="#231f20">10</text>
<line x1="82.7" y1="715.96" x2="85.2" y2="715.96" stroke="#3c3c3c" stroke-width="1.4"/>
<text x="79" y="722.15" text-anchor="end" font-size="17.7" font-weight="normal" fill="#231f20">20</text>
<line x1="82.7" y1="663.29" x2="85.2" y2="663.29" stroke="#3c3c3c" stroke-width="1.4"/>
<text x="79" y="669.49" text-anchor="end" font-size="17.7" font-weight="normal" fill="#231f20">30</text>
<line x1="85.2" y1="821.3" x2="319.6" y2="821.3" stroke="#3c3c3c" stroke-width="1.4"/>
<line x1="103.75" y1="677.2" x2="103.75" y2="693.5" stroke="#0b0b0b" stroke-width="1.4"/>
<line x1="100.15" y1="677.2" x2="107.35" y2="677.2" stroke="#0b0b0b" stroke-width="1.4"/>
<rect x="96" y="693.5" width="15.5" height="127.8" fill="#0b0b0b"/>
<line x1="125.8" y1="708.7" x2="125.8" y2="719.5" stroke="#0b0b0b" stroke-width="1.4"/>
<line x1="122.2" y1="708.7" x2="129.4" y2="708.7" stroke="#0b0b0b" stroke-width="1.4"/>
<rect x="118.8" y="720" width="14" height="101.3" fill="#ec2b30" stroke="#40060a" stroke-width="1"/>
<text x="114.6" y="841" text-anchor="middle" font-size="17.7" font-weight="normal" fill="#231f20">0</text>
<line x1="162.38" y1="730.7" x2="162.38" y2="746.5" stroke="#0b0b0b" stroke-width="1.4"/>
<line x1="158.78" y1="730.7" x2="165.98" y2="730.7" stroke="#0b0b0b" stroke-width="1.4"/>
<rect x="154.63" y="746.5" width="15.5" height="74.8" fill="#0b0b0b"/>
<line x1="184.43" y1="780.4" x2="184.43" y2="788" stroke="#0b0b0b" stroke-width="1.4"/>
<line x1="180.83" y1="780.4" x2="188.03" y2="780.4" stroke="#0b0b0b" stroke-width="1.4"/>
<rect x="177.43" y="788.5" width="14" height="32.8" fill="#ec2b30" stroke="#40060a" stroke-width="1"/>
<text x="173.23" y="841" text-anchor="middle" font-size="17.7" font-weight="normal" fill="#231f20">6</text>
<path d="M162.38 712L162.38 725" stroke="#231f20" stroke-width="1.55" fill="none"/>
<path d="M158.48 715.6L166.28 715.6" stroke="#231f20" stroke-width="1.3" fill="none"/>
<path d="M184.43 742.6L184.43 755.6" stroke="#231f20" stroke-width="1.55" fill="none"/>
<path d="M180.53 746.2L188.33 746.2" stroke="#231f20" stroke-width="1.3" fill="none"/>
<path d="M184.43 761.4L184.43 757.9M184.43 761.4L187.76 760.32M184.43 761.4L186.49 764.23M184.43 761.4L182.37 764.23M184.43 761.4L181.1 760.32" stroke="#231f20" stroke-width="1.35" stroke-linecap="round" fill="none"/>
<line x1="221.01" y1="741.6" x2="221.01" y2="751.6" stroke="#0b0b0b" stroke-width="1.4"/>
<line x1="217.41" y1="741.6" x2="224.61" y2="741.6" stroke="#0b0b0b" stroke-width="1.4"/>
<rect x="213.26" y="751.6" width="15.5" height="69.7" fill="#0b0b0b"/>
<line x1="243.06" y1="793.7" x2="243.06" y2="797.6" stroke="#0b0b0b" stroke-width="1.4"/>
<line x1="239.46" y1="793.7" x2="246.66" y2="793.7" stroke="#0b0b0b" stroke-width="1.4"/>
<rect x="236.06" y="798.1" width="14" height="23.2" fill="#ec2b30" stroke="#40060a" stroke-width="1"/>
<text x="231.86" y="841" text-anchor="middle" font-size="17.7" font-weight="normal" fill="#231f20">16</text>
<path d="M221.01 724.2L221.01 737.2" stroke="#231f20" stroke-width="1.55" fill="none"/>
<path d="M217.11 727.8L224.91 727.8" stroke="#231f20" stroke-width="1.3" fill="none"/>
<path d="M243.06 754.9L243.06 767.9" stroke="#231f20" stroke-width="1.55" fill="none"/>
<path d="M239.16 758.5L246.96 758.5" stroke="#231f20" stroke-width="1.3" fill="none"/>
<path d="M243.06 777.7L243.06 774.2M243.06 777.7L246.39 776.62M243.06 777.7L245.12 780.53M243.06 777.7L241 780.53M243.06 777.7L239.73 776.62" stroke="#231f20" stroke-width="1.35" stroke-linecap="round" fill="none"/>
<line x1="279.64" y1="708.7" x2="279.64" y2="733.8" stroke="#0b0b0b" stroke-width="1.4"/>
<line x1="276.04" y1="708.7" x2="283.24" y2="708.7" stroke="#0b0b0b" stroke-width="1.4"/>
<rect x="271.89" y="733.8" width="15.5" height="87.5" fill="#0b0b0b"/>
<line x1="301.69" y1="781.4" x2="301.69" y2="789" stroke="#0b0b0b" stroke-width="1.4"/>
<line x1="298.09" y1="781.4" x2="305.29" y2="781.4" stroke="#0b0b0b" stroke-width="1.4"/>
<rect x="294.69" y="789.5" width="14" height="31.8" fill="#ec2b30" stroke="#40060a" stroke-width="1"/>
<text x="290.49" y="841" text-anchor="middle" font-size="17.7" font-weight="normal" fill="#231f20">24</text>
<path d="M279.64 690.5L279.64 703.5" stroke="#231f20" stroke-width="1.55" fill="none"/>
<path d="M275.74 694.1L283.54 694.1" stroke="#231f20" stroke-width="1.3" fill="none"/>
<path d="M301.69 743.6L301.69 756.6" stroke="#231f20" stroke-width="1.55" fill="none"/>
<path d="M297.79 747.2L305.59 747.2" stroke="#231f20" stroke-width="1.3" fill="none"/>
<path d="M301.69 764.9L301.69 761.4M301.69 764.9L305.02 763.82M301.69 764.9L303.75 767.73M301.69 764.9L299.63 767.73M301.69 764.9L298.36 763.82" stroke="#231f20" stroke-width="1.35" stroke-linecap="round" fill="none"/>
<text x="204.1" y="865" text-anchor="middle" font-size="17.7" font-weight="normal" fill="#231f20">Time after DTX treatment (days)</text>
<text transform="translate(26.6 745.5) rotate(-90)" x="0" y="0" text-anchor="middle" font-size="17.7" fill="#231f20">Time on 18&#176;C</text>
<text transform="translate(47.8 744.5) rotate(-90)" x="0" y="0" text-anchor="middle" font-size="17.7" fill="#231f20">(% of total)</text>
<line x1="420" y1="664" x2="420" y2="822.2" stroke="#3c3c3c" stroke-width="1.4"/>
<line x1="417.5" y1="822.2" x2="420" y2="822.2" stroke="#3c3c3c" stroke-width="1.4"/>
<text x="413.8" y="828.4" text-anchor="end" font-size="17.7" font-weight="normal" fill="#231f20">0</text>
<line x1="417.5" y1="790.55" x2="420" y2="790.55" stroke="#3c3c3c" stroke-width="1.4"/>
<text x="413.8" y="796.75" text-anchor="end" font-size="17.7" font-weight="normal" fill="#231f20">3</text>
<line x1="417.5" y1="758.9" x2="420" y2="758.9" stroke="#3c3c3c" stroke-width="1.4"/>
<text x="413.8" y="765.1" text-anchor="end" font-size="17.7" font-weight="normal" fill="#231f20">6</text>
<line x1="417.5" y1="727.25" x2="420" y2="727.25" stroke="#3c3c3c" stroke-width="1.4"/>
<text x="413.8" y="733.45" text-anchor="end" font-size="17.7" font-weight="normal" fill="#231f20">9</text>
<line x1="417.5" y1="695.6" x2="420" y2="695.6" stroke="#3c3c3c" stroke-width="1.4"/>
<text x="413.8" y="701.8" text-anchor="end" font-size="17.7" font-weight="normal" fill="#231f20">12</text>
<line x1="417.5" y1="663.95" x2="420" y2="663.95" stroke="#3c3c3c" stroke-width="1.4"/>
<text x="413.8" y="670.15" text-anchor="end" font-size="17.7" font-weight="normal" fill="#231f20">15</text>
<line x1="420" y1="822.2" x2="654.8" y2="822.2" stroke="#3c3c3c" stroke-width="1.4"/>
<line x1="420" y1="822.2" x2="420" y2="824.7" stroke="#3c3c3c" stroke-width="1.4"/>
<text x="420" y="842.7" text-anchor="middle" font-size="17.7" font-weight="normal" fill="#231f20">0</text>
<line x1="466.96" y1="822.2" x2="466.96" y2="824.7" stroke="#3c3c3c" stroke-width="1.4"/>
<text x="466.96" y="842.7" text-anchor="middle" font-size="17.7" font-weight="normal" fill="#231f20">4</text>
<line x1="513.92" y1="822.2" x2="513.92" y2="824.7" stroke="#3c3c3c" stroke-width="1.4"/>
<text x="513.92" y="842.7" text-anchor="middle" font-size="17.7" font-weight="normal" fill="#231f20">8</text>
<line x1="560.88" y1="822.2" x2="560.88" y2="824.7" stroke="#3c3c3c" stroke-width="1.4"/>
<text x="560.88" y="842.7" text-anchor="middle" font-size="17.7" font-weight="normal" fill="#231f20">12</text>
<line x1="607.84" y1="822.2" x2="607.84" y2="824.7" stroke="#3c3c3c" stroke-width="1.4"/>
<text x="607.84" y="842.7" text-anchor="middle" font-size="17.7" font-weight="normal" fill="#231f20">16</text>
<line x1="654.8" y1="822.2" x2="654.8" y2="824.7" stroke="#3c3c3c" stroke-width="1.4"/>
<text x="654.8" y="842.7" text-anchor="middle" font-size="17.7" font-weight="normal" fill="#231f20">20</text>
<text x="537.4" y="868" text-anchor="middle" font-size="17.7" font-weight="normal" fill="#231f20">Time after DTX treatment (days)</text>
<text transform="translate(384.2 742.5) rotate(-90)" x="0" y="0" text-anchor="middle" font-size="17.7" fill="#231f20">Response latency (s)</text>
<polyline points="420,736.1 478.7,731.7 537.4,745.5 654.8,744.2" fill="none" stroke="#0b0b0b" stroke-width="1.75" stroke-linejoin="round"/>
<line x1="420" y1="730.4" x2="420" y2="742.4" stroke="#0b0b0b" stroke-width="1.6"/>
<line x1="417.2" y1="730.4" x2="422.8" y2="730.4" stroke="#0b0b0b" stroke-width="1.6"/>
<line x1="417.2" y1="742.4" x2="422.8" y2="742.4" stroke="#0b0b0b" stroke-width="1.6"/>
<rect x="418" y="734.1" width="4" height="4" fill="#0b0b0b"/>
<line x1="478.7" y1="720.4" x2="478.7" y2="742.7" stroke="#0b0b0b" stroke-width="1.6"/>
<line x1="475.9" y1="720.4" x2="481.5" y2="720.4" stroke="#0b0b0b" stroke-width="1.6"/>
<line x1="475.9" y1="742.7" x2="481.5" y2="742.7" stroke="#0b0b0b" stroke-width="1.6"/>
<rect x="476.7" y="729.7" width="4" height="4" fill="#0b0b0b"/>
<line x1="537.4" y1="738.3" x2="537.4" y2="753.2" stroke="#0b0b0b" stroke-width="1.6"/>
<line x1="534.6" y1="738.3" x2="540.2" y2="738.3" stroke="#0b0b0b" stroke-width="1.6"/>
<line x1="534.6" y1="753.2" x2="540.2" y2="753.2" stroke="#0b0b0b" stroke-width="1.6"/>
<rect x="535.4" y="743.5" width="4" height="4" fill="#0b0b0b"/>
<line x1="654.8" y1="736.1" x2="654.8" y2="752.6" stroke="#0b0b0b" stroke-width="1.6"/>
<line x1="652" y1="736.1" x2="657.6" y2="736.1" stroke="#0b0b0b" stroke-width="1.6"/>
<line x1="652" y1="752.6" x2="657.6" y2="752.6" stroke="#0b0b0b" stroke-width="1.6"/>
<rect x="652.8" y="742.2" width="4" height="4" fill="#0b0b0b"/>
<polyline points="420,731.7 478.7,722.3 537.4,741.6 654.8,756.9" fill="none" stroke="#d52b3c" stroke-width="1.75" stroke-linejoin="round"/>
<line x1="420" y1="724.5" x2="420" y2="739" stroke="#d52b3c" stroke-width="1.6"/>
<line x1="417.2" y1="724.5" x2="422.8" y2="724.5" stroke="#d52b3c" stroke-width="1.6"/>
<line x1="417.2" y1="739" x2="422.8" y2="739" stroke="#d52b3c" stroke-width="1.6"/>
<rect x="417.9" y="729.6" width="4.2" height="4.2" fill="#d52b3c"/>
<line x1="478.7" y1="709.9" x2="478.7" y2="735" stroke="#d52b3c" stroke-width="1.6"/>
<line x1="475.9" y1="709.9" x2="481.5" y2="709.9" stroke="#d52b3c" stroke-width="1.6"/>
<line x1="475.9" y1="735" x2="481.5" y2="735" stroke="#d52b3c" stroke-width="1.6"/>
<rect x="476.6" y="720.2" width="4.2" height="4.2" fill="#d52b3c"/>
<line x1="537.4" y1="733.9" x2="537.4" y2="749.3" stroke="#d52b3c" stroke-width="1.6"/>
<line x1="534.6" y1="733.9" x2="540.2" y2="733.9" stroke="#d52b3c" stroke-width="1.6"/>
<line x1="534.6" y1="749.3" x2="540.2" y2="749.3" stroke="#d52b3c" stroke-width="1.6"/>
<rect x="535.3" y="739.5" width="4.2" height="4.2" fill="#d52b3c"/>
<line x1="654.8" y1="735.7" x2="654.8" y2="777.1" stroke="#d52b3c" stroke-width="1.6"/>
<line x1="652" y1="735.7" x2="657.6" y2="735.7" stroke="#d52b3c" stroke-width="1.6"/>
<line x1="652" y1="777.1" x2="657.6" y2="777.1" stroke="#d52b3c" stroke-width="1.6"/>
<rect x="652.7" y="754.8" width="4.2" height="4.2" fill="#d52b3c"/>
<line x1="84.4" y1="955.9" x2="84.4" y2="1114.2" stroke="#3c3c3c" stroke-width="1.4"/>
<line x1="81.9" y1="1114.2" x2="84.4" y2="1114.2" stroke="#3c3c3c" stroke-width="1.4"/>
<text x="78.8" y="1120.39" text-anchor="end" font-size="17.7" font-weight="normal" fill="#231f20">0</text>
<line x1="81.9" y1="1074.53" x2="84.4" y2="1074.53" stroke="#3c3c3c" stroke-width="1.4"/>
<text x="78.8" y="1080.72" text-anchor="end" font-size="17.7" font-weight="normal" fill="#231f20">50</text>
<line x1="81.9" y1="1034.85" x2="84.4" y2="1034.85" stroke="#3c3c3c" stroke-width="1.4"/>
<text x="78.8" y="1041.05" text-anchor="end" font-size="17.7" font-weight="normal" fill="#231f20">100</text>
<line x1="81.9" y1="995.18" x2="84.4" y2="995.18" stroke="#3c3c3c" stroke-width="1.4"/>
<text x="78.8" y="1001.37" text-anchor="end" font-size="17.7" font-weight="normal" fill="#231f20">150</text>
<line x1="81.9" y1="955.5" x2="84.4" y2="955.5" stroke="#3c3c3c" stroke-width="1.4"/>
<text x="78.8" y="961.7" text-anchor="end" font-size="17.7" font-weight="normal" fill="#231f20">200</text>
<line x1="84.4" y1="1114.2" x2="318" y2="1114.2" stroke="#3c3c3c" stroke-width="1.4"/>
<line x1="142.65" y1="998.8" x2="142.65" y2="1009.1" stroke="#0b0b0b" stroke-width="1.4"/>
<line x1="123.1" y1="998.8" x2="162.2" y2="998.8" stroke="#0b0b0b" stroke-width="1.4"/>
<rect x="103.4" y="1009.1" width="78.9" height="105.1" fill="#0b0b0b"/>
<line x1="260.9" y1="1000" x2="260.9" y2="1011.3" stroke="#0b0b0b" stroke-width="1.4"/>
<line x1="240.8" y1="1000" x2="279.9" y2="1000" stroke="#0b0b0b" stroke-width="1.4"/>
<rect x="222.3" y="1011.8" width="77.2" height="102.4" fill="#ec2b30" stroke="#40060a" stroke-width="1"/>
<text transform="translate(16.4 1039.3) rotate(-90)" x="0" y="0" text-anchor="middle" font-size="17.7" fill="#231f20">AUC of the heat</text>
<text transform="translate(38.5 1039.7) rotate(-90)" x="0" y="0" text-anchor="middle" font-size="17.7" fill="#231f20">response curve</text>
<text x="13.4" y="1152.4" text-anchor="start" font-size="17.7" font-weight="normal" fill="#231f20">In all panels:</text>
<rect x="126.3" y="1140" width="31" height="13.5" fill="#0b0b0b"/>
<text x="169.3" y="1152.4" text-anchor="start" font-size="17.7" font-weight="normal" fill="#231f20">Control</text>
<rect x="249" y="1140.7" width="29.2" height="12.1" fill="#ec2b30" stroke="#40060a" stroke-width="1.4"/>
<text x="285.2" y="1152.4" text-anchor="start" font-size="17.7" font-weight="normal" fill="#231f20">oDTR</text>
<line x1="430" y1="955" x2="430" y2="1114" stroke="#3c3c3c" stroke-width="1.4"/>
<line x1="427.5" y1="1114" x2="430" y2="1114" stroke="#3c3c3c" stroke-width="1.4"/>
<text x="424.4" y="1120.19" text-anchor="end" font-size="17.7" font-weight="normal" fill="#231f20">0</text>
<line x1="427.5" y1="1074.25" x2="430" y2="1074.25" stroke="#3c3c3c" stroke-width="1.4"/>
<text x="424.4" y="1080.44" text-anchor="end" font-size="17.7" font-weight="normal" fill="#231f20">100</text>
<line x1="427.5" y1="1034.5" x2="430" y2="1034.5" stroke="#3c3c3c" stroke-width="1.4"/>
<text x="424.4" y="1040.69" text-anchor="end" font-size="17.7" font-weight="normal" fill="#231f20">200</text>
<line x1="427.5" y1="994.75" x2="430" y2="994.75" stroke="#3c3c3c" stroke-width="1.4"/>
<text x="424.4" y="1000.95" text-anchor="end" font-size="17.7" font-weight="normal" fill="#231f20">300</text>
<line x1="427.5" y1="955" x2="430" y2="955" stroke="#3c3c3c" stroke-width="1.4"/>
<text x="424.4" y="961.2" text-anchor="end" font-size="17.7" font-weight="normal" fill="#231f20">400</text>
<line x1="430" y1="1114" x2="663.8" y2="1114" stroke="#3c3c3c" stroke-width="1.4"/>
<line x1="430" y1="1114" x2="430" y2="1116.5" stroke="#3c3c3c" stroke-width="1.4"/>
<text x="430" y="1134.2" text-anchor="middle" font-size="17.7" font-weight="normal" fill="#231f20">0</text>
<line x1="468.95" y1="1114" x2="468.95" y2="1116.5" stroke="#3c3c3c" stroke-width="1.4"/>
<text x="468.95" y="1134.2" text-anchor="middle" font-size="17.7" font-weight="normal" fill="#231f20">5</text>
<line x1="507.9" y1="1114" x2="507.9" y2="1116.5" stroke="#3c3c3c" stroke-width="1.4"/>
<text x="507.9" y="1134.2" text-anchor="middle" font-size="17.7" font-weight="normal" fill="#231f20">10</text>
<line x1="546.85" y1="1114" x2="546.85" y2="1116.5" stroke="#3c3c3c" stroke-width="1.4"/>
<text x="546.85" y="1134.2" text-anchor="middle" font-size="17.7" font-weight="normal" fill="#231f20">15</text>
<line x1="585.8" y1="1114" x2="585.8" y2="1116.5" stroke="#3c3c3c" stroke-width="1.4"/>
<text x="585.8" y="1134.2" text-anchor="middle" font-size="17.7" font-weight="normal" fill="#231f20">20</text>
<line x1="624.75" y1="1114" x2="624.75" y2="1116.5" stroke="#3c3c3c" stroke-width="1.4"/>
<text x="624.75" y="1134.2" text-anchor="middle" font-size="17.7" font-weight="normal" fill="#231f20">25</text>
<line x1="663.7" y1="1114" x2="663.7" y2="1116.5" stroke="#3c3c3c" stroke-width="1.4"/>
<text x="663.7" y="1134.2" text-anchor="middle" font-size="17.7" font-weight="normal" fill="#231f20">30</text>
<text x="545.2" y="1160.4" text-anchor="middle" font-size="17.7" font-weight="normal" fill="#231f20">Time after DTX treatment (days)</text>
<text transform="translate(382.8 1033.3) rotate(-90)" x="0" y="0" text-anchor="middle" font-size="17.7" fill="#231f20">Time (s)</text>
<polyline points="430,1013.1 484.53,1014.2 523.48,994.7 539.06,994.7 554.64,994.5 585.8,1018.6 648.12,1002.3 663.7,994.5" fill="none" stroke="#0b0b0b" stroke-width="1.75" stroke-linejoin="round"/>
<line x1="430" y1="1008" x2="430" y2="1018.2" stroke="#0b0b0b" stroke-width="1.6"/>
<line x1="427.2" y1="1008" x2="432.8" y2="1008" stroke="#0b0b0b" stroke-width="1.6"/>
<line x1="427.2" y1="1018.2" x2="432.8" y2="1018.2" stroke="#0b0b0b" stroke-width="1.6"/>
<rect x="428" y="1011.1" width="4" height="4" fill="#0b0b0b"/>
<line x1="484.53" y1="1009" x2="484.53" y2="1019.3" stroke="#0b0b0b" stroke-width="1.6"/>
<line x1="481.73" y1="1009" x2="487.33" y2="1009" stroke="#0b0b0b" stroke-width="1.6"/>
<line x1="481.73" y1="1019.3" x2="487.33" y2="1019.3" stroke="#0b0b0b" stroke-width="1.6"/>
<rect x="482.53" y="1012.2" width="4" height="4" fill="#0b0b0b"/>
<rect x="521.48" y="992.7" width="4" height="4" fill="#0b0b0b"/>
<rect x="537.06" y="992.7" width="4" height="4" fill="#0b0b0b"/>
<rect x="552.64" y="992.5" width="4" height="4" fill="#0b0b0b"/>
<line x1="585.8" y1="1010.9" x2="585.8" y2="1026.2" stroke="#0b0b0b" stroke-width="1.6"/>
<line x1="583" y1="1010.9" x2="588.6" y2="1010.9" stroke="#0b0b0b" stroke-width="1.6"/>
<line x1="583" y1="1026.2" x2="588.6" y2="1026.2" stroke="#0b0b0b" stroke-width="1.6"/>
<rect x="583.8" y="1016.6" width="4" height="4" fill="#0b0b0b"/>
<line x1="648.12" y1="994.5" x2="648.12" y2="1010.3" stroke="#0b0b0b" stroke-width="1.6"/>
<line x1="645.32" y1="994.5" x2="650.92" y2="994.5" stroke="#0b0b0b" stroke-width="1.6"/>
<line x1="645.32" y1="1010.3" x2="650.92" y2="1010.3" stroke="#0b0b0b" stroke-width="1.6"/>
<rect x="646.12" y="1000.3" width="4" height="4" fill="#0b0b0b"/>
<rect x="661.7" y="992.5" width="4" height="4" fill="#0b0b0b"/>
<polyline points="430,1002.9 484.53,1003.9 523.48,996.4 539.06,1001.9 554.64,994.3 585.8,1011.9 648.12,1060.9 663.7,1113.7" fill="none" stroke="#d52b3c" stroke-width="1.75" stroke-linejoin="round"/>
<line x1="430" y1="998.4" x2="430" y2="1007.4" stroke="#d52b3c" stroke-width="1.6"/>
<line x1="427.2" y1="998.4" x2="432.8" y2="998.4" stroke="#d52b3c" stroke-width="1.6"/>
<line x1="427.2" y1="1007.4" x2="432.8" y2="1007.4" stroke="#d52b3c" stroke-width="1.6"/>
<rect x="427.9" y="1000.8" width="4.2" height="4.2" fill="#d52b3c"/>
<line x1="484.53" y1="1000.5" x2="484.53" y2="1007.3" stroke="#d52b3c" stroke-width="1.6"/>
<line x1="481.73" y1="1000.5" x2="487.33" y2="1000.5" stroke="#d52b3c" stroke-width="1.6"/>
<line x1="481.73" y1="1007.3" x2="487.33" y2="1007.3" stroke="#d52b3c" stroke-width="1.6"/>
<rect x="482.43" y="1001.8" width="4.2" height="4.2" fill="#d52b3c"/>
<line x1="523.48" y1="994" x2="523.48" y2="998.8" stroke="#d52b3c" stroke-width="1.6"/>
<line x1="520.68" y1="994" x2="526.28" y2="994" stroke="#d52b3c" stroke-width="1.6"/>
<line x1="520.68" y1="998.8" x2="526.28" y2="998.8" stroke="#d52b3c" stroke-width="1.6"/>
<rect x="521.38" y="994.3" width="4.2" height="4.2" fill="#d52b3c"/>
<line x1="539.06" y1="998.4" x2="539.06" y2="1006" stroke="#d52b3c" stroke-width="1.6"/>
<line x1="536.26" y1="998.4" x2="541.86" y2="998.4" stroke="#d52b3c" stroke-width="1.6"/>
<line x1="536.26" y1="1006" x2="541.86" y2="1006" stroke="#d52b3c" stroke-width="1.6"/>
<rect x="536.96" y="999.8" width="4.2" height="4.2" fill="#d52b3c"/>
<rect x="552.54" y="992.2" width="4.2" height="4.2" fill="#d52b3c"/>
<line x1="585.8" y1="1005.4" x2="585.8" y2="1018" stroke="#d52b3c" stroke-width="1.6"/>
<line x1="583" y1="1005.4" x2="588.6" y2="1005.4" stroke="#d52b3c" stroke-width="1.6"/>
<line x1="583" y1="1018" x2="588.6" y2="1018" stroke="#d52b3c" stroke-width="1.6"/>
<rect x="583.7" y="1009.8" width="4.2" height="4.2" fill="#d52b3c"/>
<line x1="648.12" y1="1054.8" x2="648.12" y2="1067.1" stroke="#d52b3c" stroke-width="1.6"/>
<line x1="645.32" y1="1054.8" x2="650.92" y2="1054.8" stroke="#d52b3c" stroke-width="1.6"/>
<line x1="645.32" y1="1067.1" x2="650.92" y2="1067.1" stroke="#d52b3c" stroke-width="1.6"/>
<rect x="646.02" y="1058.8" width="4.2" height="4.2" fill="#d52b3c"/>
<rect x="661.6" y="1111.6" width="4.2" height="4.2" fill="#d52b3c"/>
<path d="M523.48 977L523.48 990" stroke="#231f20" stroke-width="1.55" fill="none"/>
<path d="M519.58 980.6L527.38 980.6" stroke="#231f20" stroke-width="1.3" fill="none"/>
<path d="M539.06 977L539.06 990" stroke="#231f20" stroke-width="1.55" fill="none"/>
<path d="M535.16 980.6L542.96 980.6" stroke="#231f20" stroke-width="1.3" fill="none"/>
<path d="M554.64 977L554.64 990" stroke="#231f20" stroke-width="1.55" fill="none"/>
<path d="M550.74 980.6L558.54 980.6" stroke="#231f20" stroke-width="1.3" fill="none"/>
<path d="M663.7 977.8L663.7 990.8" stroke="#231f20" stroke-width="1.55" fill="none"/>
<path d="M659.8 981.4L667.6 981.4" stroke="#231f20" stroke-width="1.3" fill="none"/>
<path d="M648.12 1023.8L648.12 1036.8" stroke="#231f20" stroke-width="1.55" fill="none"/>
<path d="M644.22 1027.4L652.02 1027.4" stroke="#231f20" stroke-width="1.3" fill="none"/>
<path d="M663.7 1085.7L663.7 1098.7" stroke="#231f20" stroke-width="1.55" fill="none"/>
<path d="M659.8 1089.3L667.6 1089.3" stroke="#231f20" stroke-width="1.3" fill="none"/>
<path d="M648.12 1040.5L648.12 1037M648.12 1040.5L651.45 1039.42M648.12 1040.5L650.18 1043.33M648.12 1040.5L646.06 1043.33M648.12 1040.5L644.79 1039.42" stroke="#231f20" stroke-width="1.35" stroke-linecap="round" fill="none"/>
<path d="M663.7 1099.8L663.7 1096.3M663.7 1099.8L667.03 1098.72M663.7 1099.8L665.76 1102.63M663.7 1099.8L661.64 1102.63M663.7 1099.8L660.37 1098.72" stroke="#231f20" stroke-width="1.35" stroke-linecap="round" fill="none"/>
<text x="2" y="11.8" text-anchor="start" font-size="20.5" font-weight="bold" fill="#231f20">a</text>
<text x="248.2" y="27.8" text-anchor="start" font-size="17.7" font-weight="normal" fill="#231f20">Mechanical sensitivity</text>
<text x="1.8" y="340.9" text-anchor="start" font-size="20.5" font-weight="bold" fill="#231f20">b</text>
<text x="241.9" y="348.3" text-anchor="start" font-size="17.7" font-weight="normal" fill="#231f20">Noxious cold sensitivity</text>
<text x="2.3" y="632.6" text-anchor="start" font-size="20.5" font-weight="bold" fill="#231f20">c</text>
<text x="148.6" y="648.1" text-anchor="start" font-size="17.7" font-weight="normal" fill="#231f20">Cold allodynia</text>
<text x="371.2" y="633.3" text-anchor="start" font-size="20.5" font-weight="bold" fill="#231f20">d</text>
<text x="429.9" y="648.6" text-anchor="start" font-size="17.7" font-weight="normal" fill="#231f20">Heat sensitivity (plantar test)</text>
<text x="2.4" y="916.9" text-anchor="start" font-size="20.5" font-weight="bold" fill="#231f20">e</text>
<text x="128.7" y="934.5" text-anchor="start" font-size="17.7" font-weight="normal" fill="#231f20">Thermal sensitivity</text>
<text x="370" y="922.6" text-anchor="start" font-size="20.5" font-weight="bold" fill="#231f20">f</text>
<text x="491" y="935.8" text-anchor="start" font-size="17.7" font-weight="normal" fill="#231f20">Rotarod test</text>
</svg>
</body></html>
